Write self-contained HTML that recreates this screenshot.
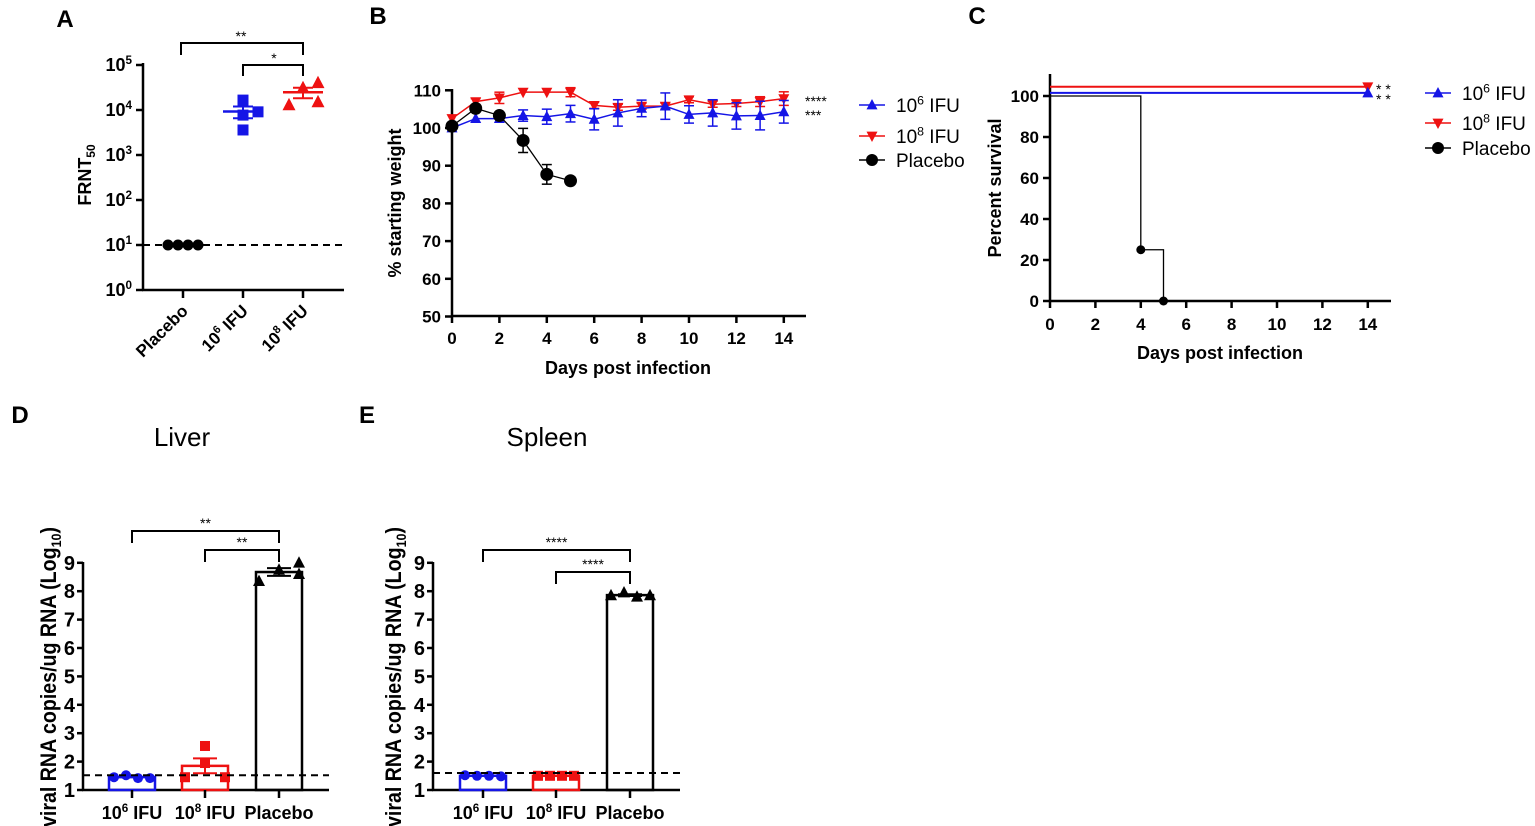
<!DOCTYPE html>
<html><head><meta charset="utf-8">
<style>
html,body{margin:0;padding:0;background:#fff;}
svg{display:block;font-family:"Liberation Sans",Arial,sans-serif;}
</style></head>
<body>
<svg id="fig" width="1535" height="826" viewBox="0 0 1535 826" xmlns="http://www.w3.org/2000/svg"></svg>
<script>
// ---------- Panel A data ----------
const aCats = ['Placebo', '10^6 IFU', '10^8 IFU'];
const aPlacebo = [10, 10, 10, 10];
const aLow = [16600, 9100, 7700, 3600];
const aHigh = [12900, 31000, 40000, 15000];
const aTickExps = [0, 1, 2, 3, 4, 5];
const aLimit = 10;
// ---------- Panel B data ----------
const bDays = [0,1,2,3,4,5,6,7,8,9,10,11,12,13,14];
const bLow = [100,102.5,102.5,103.3,103,103.8,102.3,104,105.2,105.8,103.6,104,103.2,103.3,104.3];
const bLowErr = [0.5,0.5,0.5,1.5,2,2.2,2.8,3.5,2.2,3.5,2.3,3.5,3.5,3.8,3];
const bHigh = [102.5,107,108,109.5,109.5,109.5,106,105.5,105.8,105.8,107.5,106.3,106.5,107,107.8];
const bHighErr = [0.5,0.8,1.5,0.6,0.6,1.2,0.8,0.8,0.8,0.8,0.8,0.8,0.8,1.3,1.8];
const bPlaceboDays = [0,1,2,3,4,5];
const bPlacebo = [100.5,105.2,103.3,96.7,87.7,86];
const bPlaceboErr = [0.5,0.8,0.6,3.2,2.6,0];
const bYTicks = [50,60,70,80,90,100,110];
const bXTicks = [0,2,4,6,8,10,12,14];
// ---------- Panel C data ----------
const cLowTimes = [0, 14];
const cLowSurv = [100, 100];
const cHighTimes = [0, 14];
const cHighSurv = [100, 100];
const cPlaceboTimes = [0, 4, 5];
const cPlaceboSurv = [100, 25, 0];
const cYTicks = [0,20,40,60,80,100];
const cXTicks = [0,2,4,6,8,10,12,14];
// ---------- Panel D/E data ----------
const dLow = [1.45,1.52,1.42,1.42];
const dHigh = [1.45,2.55,1.95,1.45];
const dPlacebo = [8.35,8.75,9.0,8.6];
const dLimit = 1.52;
const eLow = [1.52,1.5,1.5,1.48];
const eHigh = [1.5,1.5,1.5,1.5];
const ePlacebo = [7.85,7.95,7.8,7.85];
const eLimit = 1.6;
const deYTicks = [1,2,3,4,5,6,7,8,9];

const NS='http://www.w3.org/2000/svg';
const svg=document.getElementById('fig');
function mk(tag, attrs, parent){const e=document.createElementNS(NS,tag);for(const k in attrs)e.setAttribute(k,attrs[k]);(parent||svg).appendChild(e);return e;}
function txt(x,y,s,size,anchor,weight,extra){const t=mk('text',Object.assign({x:x,y:y,'font-size':size,'text-anchor':anchor||'middle','font-weight':weight||'bold',fill:'#000'},extra||{}));t.textContent=s;return t;}
function supLabel(x,y,base,sup,rest,size,anchor,weight,extra){
  const t=mk('text',Object.assign({x:x,y:y,'font-size':size,'text-anchor':anchor||'middle','font-weight':weight||'bold',fill:'#000'},extra||{}));
  const a=mk('tspan',{},t);a.textContent=base;
  const b=mk('tspan',{dy:-size*0.4,'font-size':size*0.65},t);b.textContent=sup;
  if(rest){const c=mk('tspan',{dy:size*0.4},t);c.textContent=rest;}
  return t;
}
function line(x1,y1,x2,y2,col,w,dash){const a={x1:x1,y1:y1,x2:x2,y2:y2,stroke:col||'#000','stroke-width':w||2};if(dash)a['stroke-dasharray']=dash;return mk('line',a);}
function marker(shape,x,y,r,col){
  if(shape==='circle')return mk('circle',{cx:x,cy:y,r:r,fill:col});
  if(shape==='square')return mk('rect',{x:x-r,y:y-r,width:2*r,height:2*r,fill:col});
  if(shape==='up')return mk('polygon',{points:`${x},${y-r*1.1} ${x-r},${y+r*0.8} ${x+r},${y+r*0.8}`,fill:col});
  return mk('polygon',{points:`${x},${y+r*1.1} ${x-r},${y-r*0.8} ${x+r},${y-r*0.8}`,fill:col});
}
function mean(a){return a.reduce((s,v)=>s+v,0)/a.length;}
function sem(a){const m=mean(a);return Math.sqrt(a.reduce((s,v)=>s+(v-m)*(v-m),0)/(a.length-1))/Math.sqrt(a.length);}
function catLabel(x,y,lab,size,anchor,extra){
  const p=lab.split('^');
  if(p.length===1)return txt(x,y,lab,size,anchor,'bold',extra);
  const base=p[1].split(' ');
  return supLabel(x,y,p[0],base[0],' '+base.slice(1).join(' '),size,anchor,'bold',extra);
}

// ================= Panel A =================
const aX=[183,243,303];
function yA(v){return 290-45*Math.log10(v);}
let e;
e=txt(65,27,'A',24,'middle','bold');


e=line(143,63,143,291,'#000',2.5);


e=line(142,290,344,290,'#000',2.5);


aTickExps.forEach(ex=>{
  const y=yA(Math.pow(10,ex));
  line(136,y,143,y,'#000',2.5);
  e=supLabel(132,y+6,'10',String(ex),'',18,'end','bold');
  
  
});
aCats.forEach((c,i)=>{
  line(aX[i],290,aX[i],298,'#000',2.5);
  e=catLabel(aX[i]+6,312,c,17,'end',{transform:`rotate(-45 ${aX[i]+6} 312)`});
  
  
});
e=mk('text',{x:0,y:0,'font-size':18,'font-weight':'bold','text-anchor':'middle',transform:'translate(91,175) rotate(-90)'});
e.innerHTML='FRNT<tspan font-size="12" dy="4">50</tspan>';


e=line(143,yA(aLimit),344,yA(aLimit),'#000',2,'7,5');


aPlacebo.forEach((v,i)=>{
  e=marker('circle',168+i*10,yA(v),5.5,'#000');
  
  
});
const aLowOff=[0,15,0,0], aHighOff=[-14,0,15,15];
[[aLow,aLowOff,'#1515e6','square',aX[1]],[aHigh,aHighOff,'#ee1111','up',aX[2]]].forEach(([arr,off,col,sh,cx])=>{
  const m=mean(arr), s=sem(arr);
  line(cx-20,yA(m),cx+20,yA(m),col,2.5);
  line(cx,yA(m+s),cx,yA(m-s),col,2);
  line(cx-10,yA(m+s),cx+10,yA(m+s),col,2);
  line(cx-10,yA(m-s),cx+10,yA(m-s),col,2);
  arr.forEach((v,i)=>{
    e=marker(sh,cx+off[i],yA(v),sh==='square'?5.5:6.5,col);
    
    
  });
});
mk('path',{d:'M181,55 V43 H303 V55',fill:'none',stroke:'#000','stroke-width':2});
e=txt(241,41,'**',14,'middle','normal');


mk('path',{d:'M243,76 V65 H303 V76',fill:'none',stroke:'#000','stroke-width':2});
e=txt(274,63,'*',14,'middle','normal');



// ================= Panel B =================
function xB(d){return 452+d*23.7;}
function yB(v){return 128-(v-100)*3.77;}
e=txt(378,24,'B',24,'middle','bold');


e=line(452,89,452,317,'#000',2.5);


e=line(451,316,806,316,'#000',2.5);


bYTicks.forEach(v=>{
  line(445,yB(v),452,yB(v),'#000',2.5);
  e=txt(441,yB(v)+6,String(v),17,'end','bold');
  
  
});
bXTicks.forEach(d=>{
  line(xB(d),316,xB(d),323,'#000',2.5);
  e=txt(xB(d),344,String(d),17,'middle','bold');
  
  
});
e=txt(628,374,'Days post infection',18,'middle','bold');


e=txt(0,0,'% starting weight',18,'middle','bold',{transform:'translate(401,203) rotate(-90)'});


function seriesB(days,vals,errs,col,sh,nm,lw){
  const pts=days.map((d,i)=>`${xB(d)},${yB(vals[i])}`).join(' ');
  e=mk('polyline',{points:pts,fill:'none',stroke:col,'stroke-width':lw});
  
  
  days.forEach((d,i)=>{
    const x=xB(d);
    if(errs[i]>0.6){
      line(x,yB(vals[i]+errs[i]),x,yB(vals[i]-errs[i]),col,1.5);
      line(x-5,yB(vals[i]+errs[i]),x+5,yB(vals[i]+errs[i]),col,1.5);
      line(x-5,yB(vals[i]-errs[i]),x+5,yB(vals[i]-errs[i]),col,1.5);
    }
    e=marker(sh,x,yB(vals[i]),sh==='circle'?6.5:5.5,col);
    
    
  });
}
seriesB(bDays,bHigh,bHighErr,'#ee1111','down','panel-b-1e8',1.5);
seriesB(bDays,bLow,bLowErr,'#1515e6','up','panel-b-1e6',1.5);
seriesB(bPlaceboDays,bPlacebo,bPlaceboErr,'#000','circle','panel-b-placebo',1.3);
e=txt(805,106,'****',14,'start','normal');


e=txt(805,120,'***',14,'start','normal');


function legend(x,y,col,sh,base,sup,rest,nm){
  line(x,y,x+26,y,col,1.5);
  marker(sh,x+13,y,sh==='circle'?6:5.5,col);
  e=sup?supLabel(x+37,y+7,base,sup,rest,19,'start','normal'):txt(x+37,y+7,base,19,'start','normal');
  
  
}
legend(859,105,'#1515e6','up','10','6',' IFU','panel-b-legend-1e6');
legend(859,136,'#ee1111','down','10','8',' IFU','panel-b-legend-1e8');
legend(859,160,'#000','circle','Placebo',null,null,'panel-b-legend-placebo');

// ================= Panel C =================
function xC(d){return 1050+d*22.7;}
function yC(v){return 301-v*2.05;}
e=txt(977,24,'C',24,'middle','bold');


e=line(1050,74,1050,302,'#000',2.5);


e=line(1049,301,1391,301,'#000',2.5);


cYTicks.forEach(v=>{
  line(1043,yC(v),1050,yC(v),'#000',2.5);
  e=txt(1039,yC(v)+6,String(v),17,'end','bold');
  
  
});
cXTicks.forEach(d=>{
  line(xC(d),301,xC(d),308,'#000',2.5);
  e=txt(xC(d),330,String(d),17,'middle','bold');
  
  
});
e=txt(1220,359,'Days post infection',18,'middle','bold');


e=txt(0,0,'Percent survival',18,'middle','bold',{transform:'translate(1001,188) rotate(-90)'});


function stepPath(ts,ss,off){let d=`M${xC(ts[0])},${yC(ss[0]+off)}`;for(let i=1;i<ts.length;i++){d+=` H${xC(ts[i])} V${yC(ss[i]+off)}`;}return d;}
e=mk('path',{d:stepPath(cHighTimes,cHighSurv,4.5),fill:'none',stroke:'#ee1111','stroke-width':2});


e=mk('path',{d:stepPath(cLowTimes,cLowSurv,1.5),fill:'none',stroke:'#1515e6','stroke-width':2});


e=mk('path',{d:stepPath(cPlaceboTimes,cPlaceboSurv,0),fill:'none',stroke:'#000','stroke-width':1.3});


e=marker('down',xC(cHighTimes[1]),yC(cHighSurv[1]+4.5),5.5,'#ee1111');


e=marker('up',xC(cLowTimes[1]),yC(cLowSurv[1]+1.5),5.5,'#1515e6');


for(let i=1;i<cPlaceboTimes.length;i++){
  e=marker('circle',xC(cPlaceboTimes[i]),yC(cPlaceboSurv[i]),4.5,'#000');
  
  
}
e=txt(1376,94,'* *',14,'start','normal');


e=txt(1376,104,'* *',14,'start','normal');


legend(1425,93,'#1515e6','up','10','6',' IFU','panel-c-legend-1e6');
legend(1425,123,'#ee1111','down','10','8',' IFU','panel-c-legend-1e8');
legend(1425,148,'#000','circle','Placebo',null,null,'panel-c-legend-placebo');

// ================= Panels D & E =================
function yD(v){return 790-(v-1)*28.4;}
function barPanel(opt){
  const cx=opt.cats;
  e=txt(opt.lx,423,opt.letter,24,'middle','bold');
  
  
  e=txt(opt.tx,446,opt.title,26,'middle','normal');
  
  
  e=line(opt.ax,562,opt.ax,791,'#000',2.5);
  
  
  e=line(opt.ax-1,790,opt.axEnd,790,'#000',2.5);
  
  
  deYTicks.forEach(v=>{
    line(opt.ax-6,yD(v),opt.ax,yD(v),'#000',2.5);
    e=txt(opt.ax-8,yD(v)+7,String(v),20,'end','bold');
    
    
  });
  e=mk('text',{x:0,y:0,'font-size':22,'font-weight':'bold','text-anchor':'end',textLength:300,lengthAdjust:'spacingAndGlyphs',transform:`translate(${opt.yx},527) rotate(-90)`});
  e.textContent='viral RNA copies/ug RNA (Log';
  const sub=mk('tspan',{'font-size':14,dy:5},e);sub.textContent='10';
  const cl=mk('tspan',{dy:-5},e);cl.textContent=')';
  
  
  const labs=['10^6 IFU','10^8 IFU','Placebo'];
  const cols=['#1515e6','#ee1111','#000'];
  const shapes=['circle','square','up'];
  const offs=[[-18,-6,6,18],opt.redOff,opt.plOff];
  opt.series.forEach((arr,i)=>{
    const m=mean(arr), s=sem(arr);
    e=mk('rect',{x:cx[i]-23,y:yD(m),width:46,height:790-yD(m),fill:'none',stroke:cols[i],'stroke-width':2.5});
    
    
    if(s>0.03){
      line(cx[i],yD(m+s),cx[i],yD(m-s),cols[i],2);
      line(cx[i]-12,yD(m+s),cx[i]+12,yD(m+s),cols[i],2);
      line(cx[i]-12,yD(m-s),cx[i]+12,yD(m-s),cols[i],2);
    }
    arr.forEach((v,j)=>{
      e=marker(shapes[i],cx[i]+offs[i][j],yD(v),shapes[i]==='up'?6:5,cols[i]);
      
      
    });
    line(cx[i],790,cx[i],798,'#000',2.5);
    e=catLabel(cx[i],819,labs[i],18,'middle');
    
    
  });
  e=line(opt.ax,yD(opt.limit),opt.dashEnd,yD(opt.limit),'#000',2,'7,5');
  
  
  opt.brackets.forEach(b=>{
    mk('path',{d:`M${cx[b.from]},${b.y+12} V${b.y} H${cx[2]} V${b.y+12}`,fill:'none',stroke:'#000','stroke-width':2});
    e=txt((cx[b.from]+cx[2])/2,b.y-3,b.s,14,'middle','normal');
    
    
  });
}
barPanel({p:'panel-d',letter:'D',lx:20,title:'Liver',tx:182,ax:83,axEnd:329,dashEnd:329,yx:56,cats:[132,205,279],
  series:[dLow,dHigh,dPlacebo],limit:dLimit,redOff:[-20,0,0,20],plOff:[-20,0,20,20],
  brackets:[{from:0,y:531,s:'**'},{from:1,y:550,s:'**'}]});
barPanel({p:'panel-e',letter:'E',lx:367,title:'Spleen',tx:547,ax:433,axEnd:680,dashEnd:685,yx:401,cats:[483,556,630],
  series:[eLow,eHigh,ePlacebo],limit:eLimit,redOff:[-18,-6,6,18],plOff:[-19,-6,7,20],
  brackets:[{from:0,y:550,s:'****'},{from:1,y:572,s:'****'}]});
</script>
</body></html>
